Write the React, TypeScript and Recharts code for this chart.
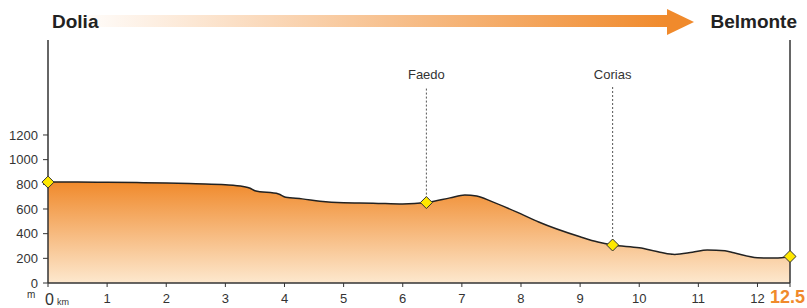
import * as React from "react";
import {
  AreaChart,
  Area,
  XAxis,
  YAxis,
  ReferenceLine,
  ReferenceDot
} from "recharts";

const distanceKm = [
  0, 0.5, 1, 1.5, 2, 2.5, 3, 3.3, 3.42, 3.5, 3.9, 4.02, 4.3, 4.6, 5, 5.5, 6,
  6.4, 6.8, 7.05, 7.25, 7.5, 8, 8.3, 9, 9.3, 9.55, 10, 10.35, 10.6, 10.9, 11.15,
  11.45, 11.6, 12, 12.3, 12.55
];
const elevationM = [
  818, 818, 816, 814, 811, 804, 796, 782, 768, 748, 722, 695, 682, 662, 650,
  647, 640, 652, 690, 714, 705, 662, 560, 495, 375, 332, 308, 285, 250, 232,
  250, 268, 262, 245, 205, 202, 215
];

const waypointNames = ["Faedo", "Corias"];
const waypointKm = [6.4, 9.55];
const waypointElev = [652, 308];
const labelElev = 1590;

const markerKm = [0, 6.4, 9.55, 12.55];
const markerElev = [818, 652, 308, 215];

const xTicks = [0, 1, 2, 3, 4, 5, 6, 7, 8, 9, 10, 11, 12, 12.55];
const yTicks = [0, 200, 400, 600, 800, 1000, 1200];
const startName = "Dolia";
const endName = "Belmonte";
const totalLabel = "12.5";

const data = distanceKm.map((km, i) => ({ km, elev: elevationM[i] }));

const FONT = "'Liberation Sans', Arial, sans-serif";
const ORANGE = "#F08A2C";

const Diamond = (props: any) => {
  const { cx, cy } = props;
  const s = 6;
  return (
    <path
      d={`M${cx},${cy - s} L${cx + s},${cy} L${cx},${cy + s} L${cx - s},${cy} Z`}
      fill="#FFE800"
      stroke="#333"
      strokeWidth={1}
    />
  );
};

const XTick = (props: any) => {
  const { x, y, payload } = props;
  const v = payload.value;
  if (v === 0) {
    return (
      <text x={x - 3} y={y + 16} fontFamily={FONT} fill="#333">
        <tspan fontSize={16}>0</tspan>
        <tspan fontSize={9} dx={3}>km</tspan>
      </text>
    );
  }
  if (v === xTicks[xTicks.length - 1]) {
    return (
      <text
        x={x + 15}
        y={y + 14}
        textAnchor="end"
        fontFamily={FONT}
        fontSize={18}
        fontWeight="bold"
        fill={ORANGE}
      >
        {totalLabel}
      </text>
    );
  }
  return (
    <text
      x={x}
      y={y + 14}
      textAnchor="middle"
      fontFamily={FONT}
      fontSize={13}
      fill="#333"
    >
      {v}
    </text>
  );
};

const Header = () => (
  <svg
    width={807}
    height={308}
    style={{ position: "absolute", left: 0, top: 0, pointerEvents: "none" }}
  >
    <defs>
      <linearGradient id="arrowFill" x1="0" y1="0" x2="1" y2="0">
        <stop offset="0%" stopColor={ORANGE} stopOpacity={0} />
        <stop offset="100%" stopColor={ORANGE} stopOpacity={1} />
      </linearGradient>
    </defs>
    <rect x={72} y={15} width={596} height={12} fill="url(#arrowFill)" />
    <path d="M667,9 L694,22 L667,35 Z" fill={ORANGE} />
    <text x={52} y={28} fontFamily={FONT} fontSize={19} fontWeight="bold" fill="#222">
      {startName}
    </text>
    <text
      x={797}
      y={28}
      textAnchor="end"
      fontFamily={FONT}
      fontSize={19}
      fontWeight="bold"
      fill="#222"
    >
      {endName}
    </text>
    <text x={27} y={298} fontFamily={FONT} fontSize={10} fill="#333">
      m
    </text>
  </svg>
);

export default function App() {
  return (
    <div style={{ position: "absolute", left: 0, top: 0, width: 807, height: 308 }}>
      <AreaChart
        width={807}
        height={308}
        data={data}
        margin={{ top: 40, right: 17, left: 0, bottom: 0 }}
      >
        <defs>
          <linearGradient id="elevFill" x1="0" y1="0" x2="0" y2="1">
            <stop offset="0%" stopColor="#F08A2C" />
            <stop offset="100%" stopColor="#FDE8CE" />
          </linearGradient>
        </defs>
        <XAxis
          dataKey="km"
          type="number"
          domain={[0, 12.55]}
          ticks={xTicks}
          interval={0}
          height={25}
          tick={<XTick />}
          tickSize={4}
          axisLine={{ stroke: "#333", strokeWidth: 1.5 }}
          tickLine={{ stroke: "#333" }}
        />
        <YAxis
          width={48}
          domain={[0, 1970]}
          ticks={yTicks}
          tickSize={5}
          tickMargin={5}
          axisLine={{ stroke: "#333", strokeWidth: 1.5 }}
          tickLine={{ stroke: "#333" }}
          tick={{ fontSize: 13, fill: "#333", fontFamily: FONT }}
        />
        <Area
          type="monotone"
          dataKey="elev"
          stroke="#222"
          strokeWidth={1.5}
          fill="url(#elevFill)"
          fillOpacity={1}
          isAnimationActive={false}
          dot={false}
          activeDot={false}
        />
        <ReferenceLine x={12.55} stroke="#333" strokeWidth={1.5} />
        {waypointNames.map((name, i) => (
          <ReferenceLine
            key={name}
            segment={[
              { x: waypointKm[i], y: waypointElev[i] },
              { x: waypointKm[i], y: labelElev }
            ]}
            stroke="#555"
            strokeDasharray="2 2"
          />
        ))}
        {waypointNames.map((name, i) => (
          <ReferenceDot
            key={"l" + name}
            x={waypointKm[i]}
            y={labelElev}
            shape={(p: any) => (
              <text
                x={p.cx}
                y={p.cy - 8}
                textAnchor="middle"
                fontFamily={FONT}
                fontSize={13}
                fill="#333"
              >
                {name}
              </text>
            )}
          />
        ))}
        {markerKm.map((km, i) => (
          <ReferenceDot
            key={"m" + i}
            x={km}
            y={markerElev[i]}
            ifOverflow="visible"
            shape={<Diamond />}
          />
        ))}
      </AreaChart>
      <Header />
    </div>
  );
}
